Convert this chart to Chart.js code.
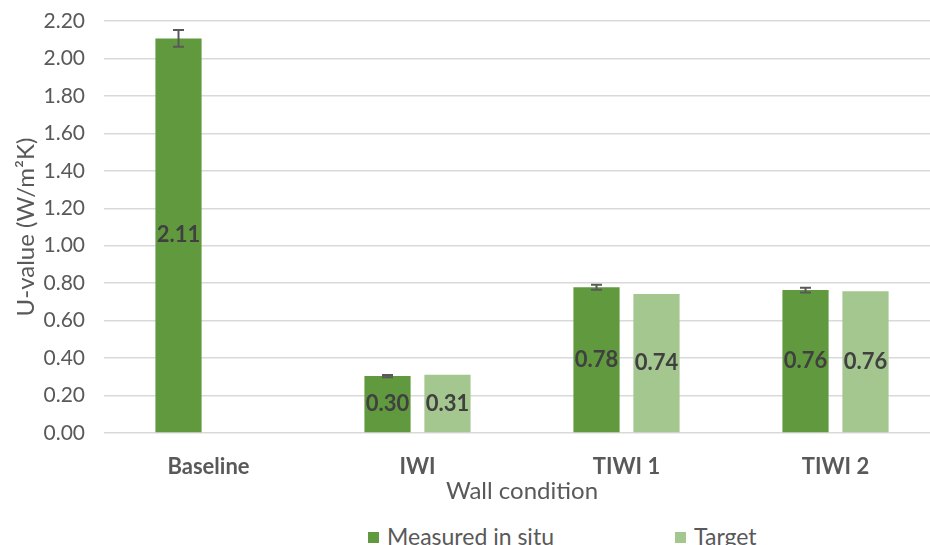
<!DOCTYPE html>
<html>
<head>
<meta charset="utf-8">
<script src="https://cdn.jsdelivr.net/npm/chart.js@4"></script>
<style>
    html, body {
        margin: 0;
        padding: 0;
        width: 930px;
        height: 545px;
        overflow: hidden;
        background: #ffffff;
        font-family: Lato, "Open Sans", sans-serif;
    }
    #wrap {
        position: relative;
        width: 930px;
        height: 545px;
        overflow: hidden;
    }
    #uChart {
        position: absolute;
        left: 0;
        top: 0;
    }
    #legend {
        position: absolute;
        left: 368px;
        top: 522px;
        display: flex;
        color: #595959;
        font-size: 23px;
        line-height: 28px;
    }
    #legend .item {
        display: flex;
        align-items: center;
    }
    #legend .item:first-child {
        width: 307px;
    }
    #legend .swatch {
        width: 11px;
        height: 11px;
        margin-right: 8px;
        margin-top: 2px;
    }
</style>
</head>
<body>
<div id="wrap">
    <canvas id="uChart" width="960" height="510"></canvas>
    <div id="legend"></div>
</div>
<script>
// ===========================
// DATA
// ===========================

const categories = ["Baseline", "IWI", "TIWI 1", "TIWI 2"];
const measuredValues = [2.107, 0.304, 0.778, 0.763];
const measuredErrors = [0.045, 0.006, 0.013, 0.013];
const targetValues = [null, 0.311, 0.742, 0.757];
const yTicks = [0, 0.2, 0.4, 0.6, 0.8, 1.0, 1.2, 1.4, 1.6, 1.8, 2.0, 2.2];

const seriesNames = ["Measured in situ", "Target"];
const seriesColors = ["#619a3e", "#a4c68f"];

document.addEventListener("DOMContentLoaded", () => {

    // ===========================
    // PLUGINS
    // ===========================

    // error bars on the measured series
    const errorBars = {
        id: "errorBars",
        afterDatasetsDraw(chart) {
            const ctx = chart.ctx;
            const y = chart.scales.y;
            const meta = chart.getDatasetMeta(0);

            ctx.save();
            ctx.strokeStyle = "#595959";
            ctx.lineWidth = 2;

            meta.data.forEach((bar, i) => {
                const v = measuredValues[i];
                const e = measuredErrors[i];
                if (v == null) return;

                const top = y.getPixelForValue(v + e);
                const bottom = y.getPixelForValue(v - e);
                const cap = 5.5;

                ctx.beginPath();
                ctx.moveTo(bar.x, top);
                ctx.lineTo(bar.x, bottom);
                ctx.moveTo(bar.x - cap, top);
                ctx.lineTo(bar.x + cap, top);
                ctx.moveTo(bar.x - cap, bottom);
                ctx.lineTo(bar.x + cap, bottom);
                ctx.stroke();
            });

            ctx.restore();
        }
    };

    // value labels in the middle of every bar
    const barLabels = {
        id: "barLabels",
        afterDatasetsDraw(chart) {
            const ctx = chart.ctx;

            ctx.save();
            ctx.font = "bold 22px Lato, 'Open Sans', sans-serif";
            ctx.fillStyle = "#404040";
            ctx.textAlign = "center";
            ctx.textBaseline = "middle";

            chart.data.datasets.forEach((ds, d) => {
                chart.getDatasetMeta(d).data.forEach((bar, i) => {
                    const v = ds.data[i];
                    if (v == null) return;
                    ctx.fillText(v.toFixed(2), bar.x, (bar.y + bar.base) / 2);
                });
            });

            ctx.restore();
        }
    };

    // ===========================
    // CHART
    // ===========================

    const ctx = document.getElementById("uChart").getContext("2d");

    const uChart = new Chart(ctx, {
        type: "bar",
        data: {
            labels: categories,
            datasets: [
                {
                    label: seriesNames[0],
                    data: measuredValues,
                    backgroundColor: seriesColors[0]
                },
                {
                    label: seriesNames[1],
                    data: targetValues,
                    backgroundColor: seriesColors[1]
                }
            ]
        },
        options: {
            responsive: false,
            animation: false,
            devicePixelRatio: 1,
            categoryPercentage: 0.574,
            barPercentage: 0.77,
            layout: {
                padding: { top: 21, right: 20, bottom: 4, left: 0 }
            },
            plugins: {
                legend: { display: false },
                tooltip: { enabled: false }
            },
            scales: {
                x: {
                    afterFit(scale) {
                        scale.height = 73;
                    },
                    grid: { display: false, drawTicks: false },
                    border: { display: false },
                    ticks: {
                        color: "#595959",
                        padding: 21,
                        font: { family: "Lato", size: 22, weight: "bold" }
                    },
                    title: {
                        display: true,
                        text: "Wall condition",
                        color: "#595959",
                        padding: { top: 0, bottom: 0 },
                        font: { family: "Lato", size: 24 }
                    }
                },
                y: {
                    min: 0,
                    max: 2.2,
                    afterFit(scale) {
                        scale.width = 104;
                        scale.paddingTop = 0;
                        scale.paddingBottom = 0;
                    },
                    afterBuildTicks(scale) {
                        scale.ticks = yTicks.map(v => ({ value: v }));
                    },
                    grid: {
                        color: "#d9d9d9",
                        lineWidth: 1.5,
                        drawTicks: false
                    },
                    border: { display: false },
                    ticks: {
                        color: "#595959",
                        padding: 19,
                        font: { family: "Lato", size: 21 },
                        callback: v => Number(v).toFixed(2)
                    },
                    title: {
                        display: true,
                        text: "U-value (W/m\u00B2K)",
                        color: "#595959",
                        padding: { top: 12, bottom: 0 },
                        font: { family: "Lato", size: 24 }
                    }
                }
            }
        },
        plugins: [errorBars, barLabels]
    });

    // ===========================
    // LEGEND
    // ===========================

    const legendBox = document.getElementById("legend");

    uChart.data.datasets.forEach(ds => {
        const item = document.createElement("div");
        item.className = "item";

        const swatch = document.createElement("span");
        swatch.className = "swatch";
        swatch.style.background = ds.backgroundColor;

        const text = document.createElement("span");
        text.innerText = ds.label;

        item.appendChild(swatch);
        item.appendChild(text);
        legendBox.appendChild(item);
    });

});
</script>
</body>
</html>
